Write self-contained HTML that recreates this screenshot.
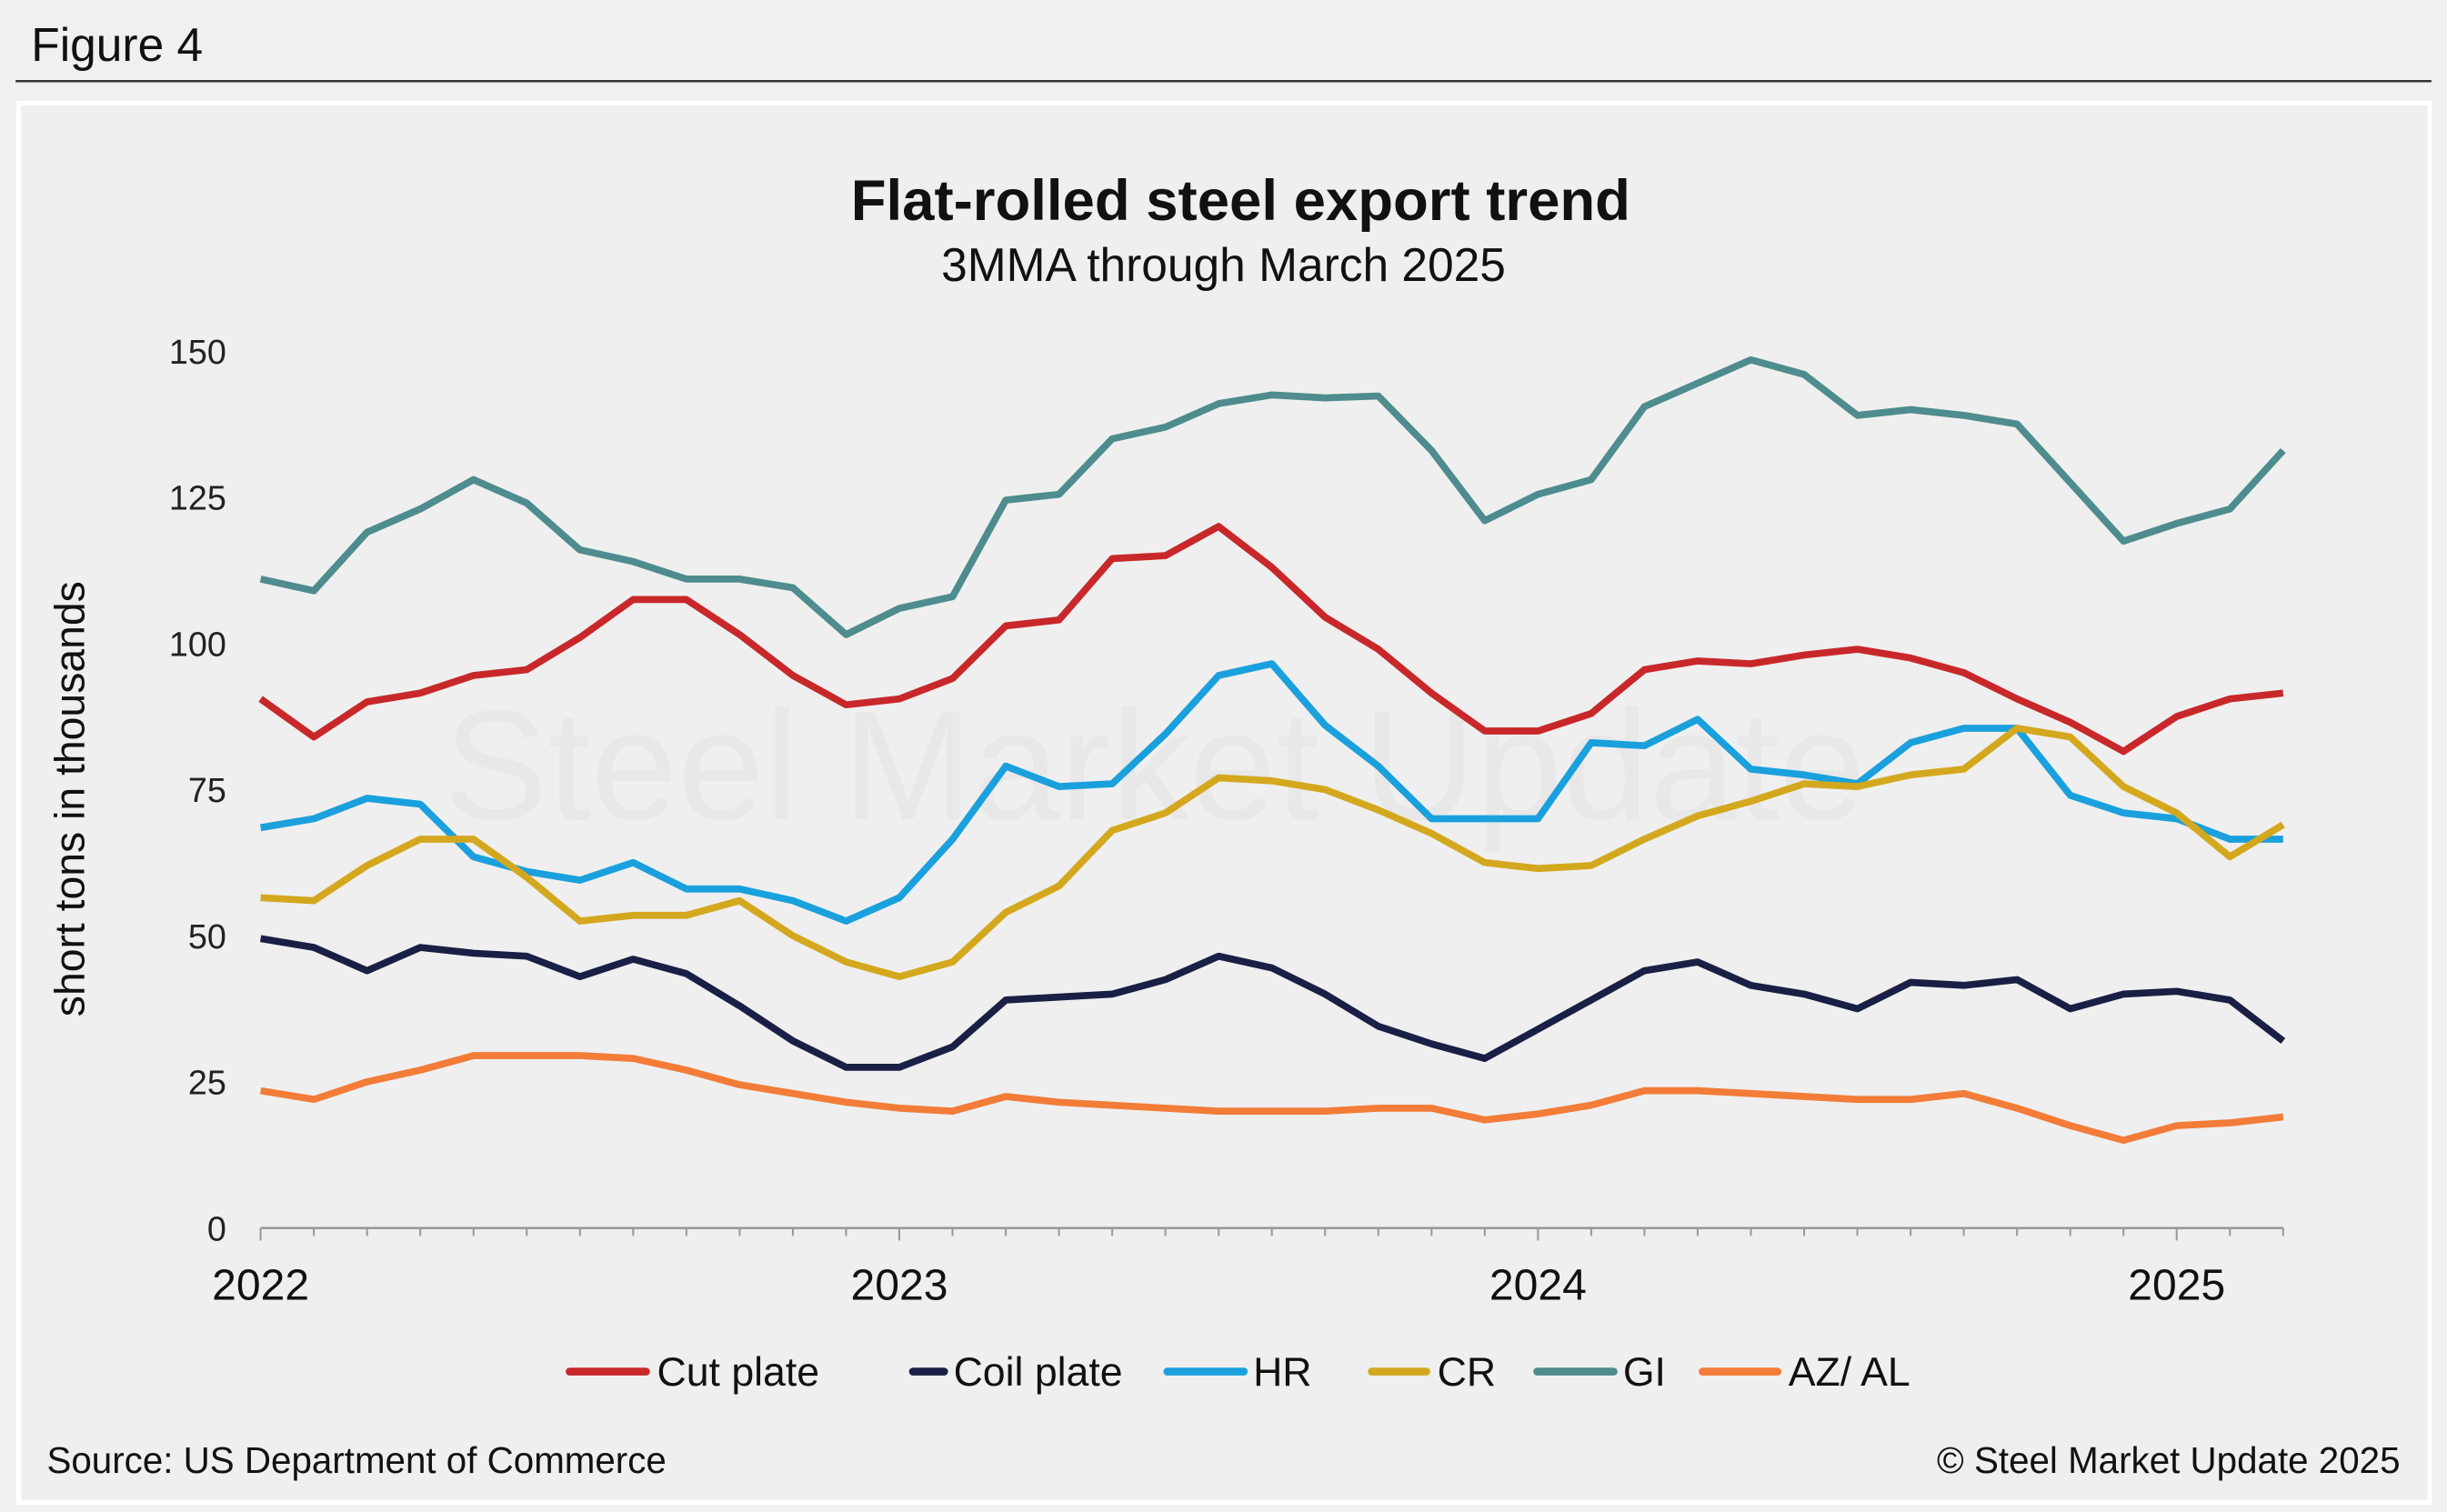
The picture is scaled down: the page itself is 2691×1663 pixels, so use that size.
<!DOCTYPE html>
<html><head><meta charset="utf-8"><style>
html,body{margin:0;padding:0;background:#f0f0f0;}
svg{display:block;font-family:"Liberation Sans",Arial,sans-serif;}
</style></head><body>
<svg id="chart" width="2691" height="1663" viewBox="0 0 1568 969" preserveAspectRatio="none" xmlns="http://www.w3.org/2000/svg">
<rect x="0" y="0" width="1568" height="969" fill="#f0f0f0"/>
<text x="20" y="39" font-size="30" fill="#111">Figure 4</text>
<line x1="10" y1="52" x2="1558" y2="52" stroke="#333" stroke-width="1.5"/>
<rect x="12" y="66" width="1545" height="897" fill="#efefef" stroke="#ffffff" stroke-width="3"/>
<text x="795" y="141" font-size="37" font-weight="bold" text-anchor="middle" fill="#111">Flat-rolled steel export trend</text>
<text x="784" y="180" font-size="30" text-anchor="middle" fill="#111">3MMA through March 2025</text>
<text x="740" y="525" font-size="100" text-anchor="middle" fill="#e8e8e8">Steel Market Update</text>
<text transform="translate(54,512) rotate(-90)" font-size="27" text-anchor="middle" fill="#111">short tons in thousands</text>
<g id="grid"></g>
<g id="series"></g>
<g id="legend"></g>
<text x="30" y="944" font-size="23.5" fill="#111">Source: US Department of Commerce</text>
<text x="1538" y="944" font-size="23.5" text-anchor="end" fill="#111">© Steel Market Update 2025</text>
</svg>
<script>
const yTicks = [0,25,50,75,100,125,150];
const yearLabels = ["2022","2023","2024","2025"];
const yearIndex = [0,12,24,36];
const cutPlate = [90.5,84,90,91.5,94.5,95.5,101,107.5,107.5,101.5,94.5,89.5,90.5,94,103,104,114.5,115,120,113,104.5,99,91.5,85,85,88,95.5,97,96.5,98,99,97.5,95,90.5,86.5,81.5,87.5,90.5,91.5];
const coilPlate = [49.5,48,44,48,47,46.5,43,46,43.5,38,32,27.5,27.5,31,39,39.5,40,42.5,46.5,44.5,40,34.5,31.5,29,34,39,44,45.5,41.5,40,37.5,42,41.5,42.5,37.5,40,40.5,39,32];
const hr = [68.5,70,73.5,72.5,63.5,61,59.5,62.5,58,58,56,52.5,56.5,66.5,79,75.5,76,84.5,94.5,96.5,86,79,70,70,70,83,82.5,87,78.5,77.5,76,83,85.5,85.5,74,71,70,66.5,66.5];
const cr = [56.5,56,62,66.5,66.5,60,52.5,53.5,53.5,56,50,45.5,43,45.5,54,58.5,68,71,77,76.5,75,71.5,67.5,62.5,61.5,62,66.5,70.5,73,76,75.5,77.5,78.5,85.5,84,75.5,71,63.5,69];
const gi = [111,109,119,123,128,124,116,114,111,111,109.5,101.5,106,108,124.5,125.5,135,137,141,142.5,142,142.3,133,121,125.5,128,140.5,144.5,148.5,146,139,140,139,137.5,127.5,117.5,120.5,123,133];
const azal = [23.5,22,25,27,29.5,29.5,29.5,29,27,24.5,23,21.5,20.5,20,22.5,21.5,21,20.5,20,20,20,20.5,20.5,18.5,19.5,21,23.5,23.5,23,22.5,22,22,23,20.5,17.5,15,17.5,18,19];
const seriesNames = ["Cut plate","Coil plate","HR","CR","GI","AZ/ AL"];

const NS="http://www.w3.org/2000/svg";
const X0=167, X1=1463, Y0=787, Y1=225;
const n=cutPlate.length;
function xs(i){return X0+(X1-X0)*i/(n-1);}
function ys(v){return Y0-(Y0-Y1)*v/150;}
function mk(tag,attrs,parent){const e=document.createElementNS(NS,tag);for(const k in attrs)e.setAttribute(k,attrs[k]);parent.appendChild(e);return e;}
const grid=document.getElementById('grid');
yTicks.forEach(t=>{
  const e=mk('text',{x:145,y:ys(t)+8,'font-size':22,'text-anchor':'end',fill:'#222'},grid);
  
  
  e.textContent=t;
});
const ax=mk('line',{x1:X0,y1:Y0,x2:X1,y2:Y0,stroke:'#999','stroke-width':1.5},grid);


for(let i=0;i<n;i++){
  const tk=mk('line',{x1:xs(i),y1:Y0,x2:xs(i),y2:Y0+(yearIndex.includes(i)?8:5),stroke:'#999','stroke-width':1.2},grid);
  
  
}
yearLabels.forEach((l,k)=>{
  const e=mk('text',{x:xs(yearIndex[k]),y:833,'font-size':28,'text-anchor':'middle',fill:'#111'},grid);
  
  
  e.textContent=l;
});
const data=[cutPlate,coilPlate,hr,cr,gi,azal];
const colors=["#c8282a","#1a1f45","#1aa0dc","#d4a81e","#4e8c8e","#f27c38"];
const order=[4,0,2,3,1,5];
const sg=document.getElementById('series');
order.forEach(s=>{
  const d=data[s].map((v,i)=>(i?'L':'M')+xs(i).toFixed(1)+','+ys(v).toFixed(1)).join(' ');
  const p=mk('path',{d:d,fill:'none',stroke:colors[s],'stroke-width':4.5,'stroke-linejoin':'round','stroke-linecap':'butt'},sg);
  
  
});
const lg=document.getElementById('legend');
const lx1=[365,585,748,879,985,1091];
const lx2=[414,605,797,914,1034,1139];
const tx=[421,611,803,921,1040,1146];
seriesNames.forEach((nm,s)=>{
  const g=mk('g',{},lg);
  
  
  mk('line',{x1:lx1[s],y1:879,x2:lx2[s],y2:879,stroke:colors[s],'stroke-width':5,'stroke-linecap':'round'},g);
  const t=mk('text',{x:tx[s],y:888,'font-size':26,fill:'#111'},g);
  t.textContent=nm;
});
</script>
</body></html>
